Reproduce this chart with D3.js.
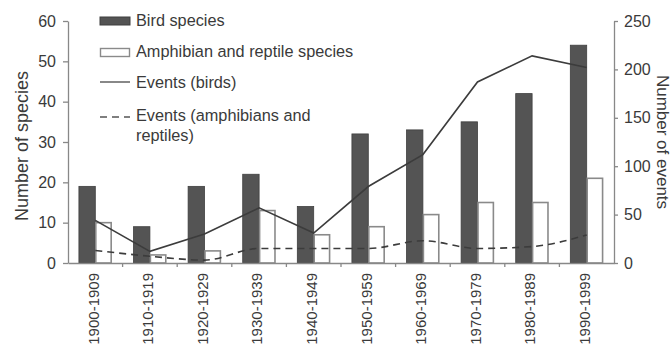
<!DOCTYPE html>
<html>
<head>
<meta charset="utf-8">
<script src="https://cdn.jsdelivr.net/npm/d3@7"></script>
<style>
  html, body { margin: 0; padding: 0; background: #fff; }
  svg { display: block; font-family: "Liberation Sans", Arial, Helvetica, sans-serif; }
</style>
</head>
<body>
<svg id="chart" width="672" height="348"></svg>
<script>
const decades = ["1900-1909","1910-1919","1920-1929","1930-1939","1940-1949","1950-1959","1960-1969","1970-1979","1980-1989","1990-1999"];
const birdSpecies = [19, 9, 19, 22, 14, 32, 33, 35, 42, 54];
const amphSpecies = [10, 2, 3, 13, 7, 9, 12, 15, 15, 21];
const birdEvents = [44, 12, 30, 57, 31, 79, 112, 187, 214, 202];
const amphEvents = [13, 7, 3, 15, 15, 15, 23, 15, 17, 29];
const leftTicks = [0, 10, 20, 30, 40, 50, 60];
const rightTicks = [0, 50, 100, 150, 200, 250];

const svg = d3.select("#chart");
const mLeft = 68, mRight = 614, mTop = 21, mBottom = 263;
const textColor = "#3a3a3a", axisColor = "#888";

const x = d3.scaleBand().domain(decades).range([mLeft, mRight]).padding(0);
const yL = d3.scaleLinear().domain([0, 60]).range([mBottom, mTop]);
const yR = d3.scaleLinear().domain([0, 250]).range([mBottom, mTop]);
const bw = x.bandwidth() * 0.3;
const cx = d => x(d) + x.bandwidth() / 2;

// bars
svg.append("g").selectAll("rect").data(decades).join("rect")
  .attr("x", d => cx(d) - bw).attr("width", bw)
  .attr("y", (d, i) => yL(birdSpecies[i]))
  .attr("height", (d, i) => mBottom - yL(birdSpecies[i]))
  .attr("fill", "#545454").attr("stroke", "#3f3f3f").attr("stroke-width", 0.8);
svg.append("g").selectAll("rect").data(decades).join("rect")
  .attr("x", d => cx(d) + 0.5).attr("width", bw - 1)
  .attr("y", (d, i) => yL(amphSpecies[i]))
  .attr("height", (d, i) => mBottom - yL(amphSpecies[i]))
  .attr("fill", "#fff").attr("stroke", "#8a8a8a").attr("stroke-width", 1.6);

// lines
const lineB = d3.line().x((d, i) => cx(decades[i])).y(d => yR(d));
svg.append("path").attr("d", lineB(birdEvents))
  .attr("fill", "none").attr("stroke", "#3c3c3c").attr("stroke-width", 1.6);
const lineA = d3.line().x((d, i) => cx(decades[i])).y(d => yR(d)).curve(d3.curveMonotoneX);
svg.append("path").attr("d", lineA(amphEvents))
  .attr("fill", "none").attr("stroke", "#3c3c3c").attr("stroke-width", 1.6)
  .attr("stroke-dasharray", "7,5");

// axes
function styleAxis(g) {
  g.selectAll("path, line").attr("stroke", axisColor).attr("stroke-width", 1.3);
  g.selectAll("text").attr("fill", textColor).attr("font-size", 16);
}
const gL = svg.append("g").attr("transform", `translate(${mLeft},0)`)
  .call(d3.axisLeft(yL).tickValues(leftTicks).tickSize(5).tickSizeOuter(0).tickPadding(7));
styleAxis(gL);
const gR = svg.append("g").attr("transform", `translate(${mRight},0)`)
  .call(d3.axisRight(yR).tickValues(rightTicks).tickSize(4).tickSizeOuter(0).tickPadding(6));
styleAxis(gR);

const gX = svg.append("g").attr("transform", `translate(0,${mBottom})`)
  .call(d3.axisBottom(x).tickSize(0).tickFormat(d => d));
gX.select(".domain").attr("stroke", axisColor).attr("stroke-width", 1.3);
gX.selectAll(".tick text").attr("fill", textColor).attr("font-size", 15)
  .attr("transform", "rotate(-90)").attr("text-anchor", "end")
  .attr("x", -10).attr("y", -2).attr("dy", "0.35em");
// tick marks at band boundaries
svg.append("g").selectAll("line").data(decades.slice(1)).join("line")
  .attr("x1", d => x(d)).attr("x2", d => x(d))
  .attr("y1", mBottom).attr("y2", mBottom + 4)
  .attr("stroke", axisColor).attr("stroke-width", 1.3);

// axis titles
svg.append("text").attr("transform", `translate(28,${(mTop + mBottom) / 2 + 4}) rotate(-90)`)
  .attr("text-anchor", "middle").attr("font-size", 18).attr("fill", textColor)
  .text("Number of species");
svg.append("text").attr("transform", `translate(657,${(mTop + mBottom) / 2}) rotate(90)`)
  .attr("text-anchor", "middle").attr("font-size", 17).attr("fill", textColor)
  .text("Number of events");

// legend
const lg = svg.append("g");
lg.append("rect").attr("x", 100).attr("y", 17).attr("width", 30).attr("height", 8)
  .attr("fill", "#545454").attr("stroke", "#3f3f3f");
lg.append("rect").attr("x", 100.5).attr("y", 48.5).attr("width", 29).attr("height", 8)
  .attr("fill", "#fff").attr("stroke", "#8a8a8a").attr("stroke-width", 1.4);
lg.append("line").attr("x1", 100).attr("x2", 130).attr("y1", 82).attr("y2", 82)
  .attr("stroke", "#555").attr("stroke-width", 1.4);
lg.append("line").attr("x1", 100).attr("x2", 130).attr("y1", 117).attr("y2", 117)
  .attr("stroke", "#555").attr("stroke-width", 1.4).attr("stroke-dasharray", "7,5");
const legendTexts = [["Bird species", 26], ["Amphibian and reptile species", 57], ["Events (birds)", 88], ["Events (amphibians and", 121], ["reptiles)", 141]];
lg.selectAll("text").data(legendTexts).join("text")
  .attr("x", 136).attr("y", d => d[1]).attr("font-size", 16.3).attr("fill", textColor)
  .text(d => d[0]);
</script>
</body>
</html>
